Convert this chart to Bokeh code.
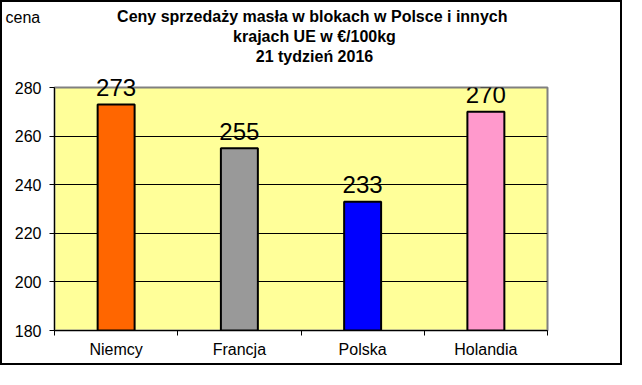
from bokeh.plotting import figure
from bokeh.models import (ColumnDataSource, FixedTicker, Range1d, Label)
from bokeh.embed import file_html
from bokeh.resources import INLINE

countries = ["Niemcy", "Francja", "Polska", "Holandia"]
prices = [273, 255, 233, 270]
colors = ["#FF6600", "#999999", "#0000FF", "#FF99CC"]
y_ticks = [180, 200, 220, 240, 260, 280]
title_lines = ["Ceny sprzedaży masła w blokach w Polsce i  innych",
               "krajach UE w €/100kg",
               "21 tydzień 2016"]
y_label = "cena"

xs = [i + 0.5 for i in range(len(countries))]
src = ColumnDataSource(dict(x=xs, top=prices, color=colors))

FONT = "Liberation Sans"
W, H = 622, 365
ML, MT, MR, MB = 52, 85, 77, 37

ymin, ymax = y_ticks[0], y_ticks[-1]
p = figure(width=W, height=H, output_backend="svg", toolbar_location=None,
           x_range=Range1d(0, len(countries)), y_range=Range1d(ymin, ymax),
           min_border_left=ML, min_border_top=MT, min_border_right=MR,
           min_border_bottom=MB)
p.styles = {"border": "2px solid black"}
p.background_fill_color = "#FFFF99"
p.border_fill_color = "white"
p.outline_line_color = "#808080"
p.outline_line_width = 2

p.vbar(x="x", top="top", bottom=ymin, width=0.30, fill_color="color",
       line_color="black", line_width=2, source=src)

# y axis
p.yaxis.ticker = FixedTicker(ticks=y_ticks)
p.yaxis.minor_tick_line_color = None
p.yaxis.major_tick_out = 5
p.yaxis.major_tick_in = 0
p.yaxis.major_label_standoff = 8
p.yaxis.axis_line_color = "black"
p.yaxis.major_tick_line_color = "black"
p.yaxis.major_label_text_font = FONT
p.yaxis.major_label_text_font_size = "16px"
p.yaxis.major_label_text_color = "black"

# x axis
p.xaxis.ticker = FixedTicker(ticks=xs, minor_ticks=list(range(len(countries) + 1)))
p.xaxis.major_label_overrides = {x: c for x, c in zip(xs, countries)}
p.xaxis.major_tick_line_color = None
p.xaxis.major_tick_out = 0
p.xaxis.major_tick_in = 0
p.xaxis.minor_tick_line_color = "black"
p.xaxis.minor_tick_out = 5
p.xaxis.minor_tick_in = 0
p.xaxis.major_label_standoff = 5
p.xaxis.axis_line_color = "black"
p.xaxis.major_label_text_font = FONT
p.xaxis.major_label_text_font_size = "16px"
p.xaxis.major_label_text_color = "black"

p.xgrid.visible = False
p.ygrid.ticker = FixedTicker(ticks=y_ticks[1:-1])
p.ygrid.grid_line_color = "black"
p.ygrid.grid_line_width = 1

# title block: first "above" panel, screen y measured up from the frame top
p.add_layout(Label(x=260, y=51, x_units="screen", y_units="screen",
                   text="\n".join(title_lines), text_align="center",
                   text_baseline="middle", text_line_height=1.2,
                   text_font=FONT, text_font_size="16px",
                   text_font_style="bold", text_color="black"), "above")

# 'cena': first "right" panel, offsets measured from the frame's bottom-right
p.add_layout(Label(x=-542, y=313, x_units="screen", y_units="screen",
                   text=y_label, text_align="left", text_baseline="middle",
                   text_font=FONT, text_font_size="16px",
                   text_color="black"), "right")

# value labels above bars; the ones reaching above the frame go to a side
# panel so they are not clipped by the frame
for x, v in zip(xs, prices):
    lab = Label(x=x, y=v, y_offset=17, text=str(v), text_align="center",
                text_baseline="alphabetic", text_font=FONT,
                text_font_size="24px", text_color="black")
    if v > ymax - 9:
        p.add_layout(lab, "right")
    else:
        p.add_layout(lab)

open("out.html", "w").write(file_html(p, INLINE))
